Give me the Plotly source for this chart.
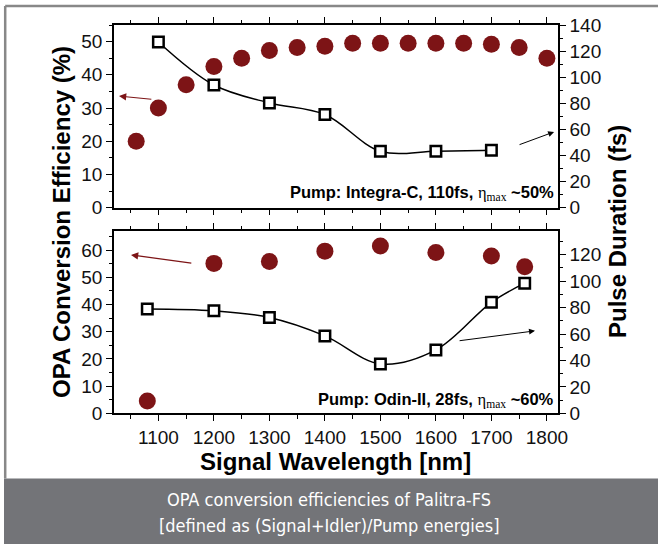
import plotly.graph_objects as go

# ---------------- data ----------------
wl_eff_top = [1060, 1100, 1150, 1200, 1250, 1300, 1350, 1400, 1450, 1500, 1550, 1600, 1650, 1700, 1750, 1800]
eff_top = [20, 30, 37, 42.5, 45, 47.3, 48.2, 48.6, 49.5, 49.5, 49.5, 49.5, 49.5, 49.2, 48.2, 45]
wl_pulse_top = [1100, 1200, 1300, 1400, 1500, 1600, 1700]
pulse_top = [127, 94, 80.3, 71.4, 43.3, 43.3, 44]

wl_eff_bot = [1080, 1200, 1300, 1400, 1500, 1600, 1700, 1760]
eff_bot = [4.5, 55.1, 55.8, 59.6, 61.5, 59.1, 57.8, 53.9]
wl_pulse_bot = [1080, 1200, 1300, 1400, 1500, 1600, 1700, 1760]
pulse_bot = [79, 77.6, 72.5, 58.6, 37.4, 48, 84, 98.5]

x_ticks = [1100, 1200, 1300, 1400, 1500, 1600, 1700, 1800]
label_top = "<b>Pump: Integra-C, 110fs, </b><span style='font-family:Liberation Serif'>η<sub>max</sub></span><b> ~50%</b>"
label_bot = "<b>Pump: Odin-II, 28fs, </b><span style='font-family:Liberation Serif'>η<sub>max</sub></span><b> ~60%</b>"

# ---------------- style ----------------
W, H = 658, 544
RED = "#7d1416"
FONT = "Liberation Sans, Arial, sans-serif"
px = lambda v: v / W
py = lambda v: 1 - v / H

fig = go.Figure()
circle = dict(size=17, color=RED)
square = dict(symbol="square", size=10.5, color="white", line=dict(color="black", width=2.5))

fig.add_trace(go.Scatter(x=wl_eff_top, y=eff_top, mode="markers", marker=circle, xaxis="x", yaxis="y", showlegend=False))
fig.add_trace(go.Scatter(x=wl_pulse_top, y=pulse_top, mode="lines+markers", marker=square,
                         line=dict(color="black", width=1.5, shape="spline", smoothing=1),
                         xaxis="x", yaxis="y2", showlegend=False))
fig.add_trace(go.Scatter(x=wl_eff_bot, y=eff_bot, mode="markers", marker=circle, xaxis="x2", yaxis="y3", showlegend=False))
fig.add_trace(go.Scatter(x=wl_pulse_bot, y=pulse_bot, mode="lines+markers", marker=square,
                         line=dict(color="black", width=1.5, shape="spline", smoothing=1),
                         xaxis="x2", yaxis="y4", showlegend=False))

tickfont = dict(family=FONT, size=19, color="#111")
common = dict(showline=True, linewidth=1.5, linecolor="black", ticks="outside", ticklen=6, tickwidth=1.3,
              tickcolor="black", showgrid=False, zeroline=False, tickfont=tickfont, automargin=False)

xdom = [px(114), px(558)]
top_dom = [py(207.7), py(25)]
bot_dom = [py(413.3), py(231)]

def xax(anchor, labels):
    return dict(common, domain=xdom, anchor=anchor, range=[1020, 1820], tickvals=x_ticks,
                showticklabels=labels, mirror="ticks",
                minor=dict(dtick=50, tick0=1000, ticks="outside", ticklen=3.5, tickcolor="black", showgrid=False))

def yax(dom, anchor, rng, dtick, mdtick, side="left", overlay=None):
    d = dict(common, anchor=anchor, range=rng, dtick=dtick, tick0=0, side=side,
             minor=dict(dtick=mdtick, tick0=0, ticks="outside", ticklen=3.5, tickcolor="black", showgrid=False))
    if overlay:
        d["overlaying"] = overlay
    else:
        d["domain"] = dom
    return d

fig.update_layout(
    width=W, height=H, margin=dict(l=0, r=0, t=0, b=0, autoexpand=False),
    paper_bgcolor="white", plot_bgcolor="white",
    xaxis=xax("y", False),
    xaxis2=xax("y3", True),
    yaxis=yax(top_dom, "x", [0, 55], 10, 5),
    yaxis2=yax(top_dom, "x", [0, 140], 20, 10, side="right", overlay="y"),
    yaxis3=yax(bot_dom, "x2", [0, 67], 10, 5),
    yaxis4=yax(bot_dom, "x2", [0, 138], 20, 10, side="right", overlay="y3"),
)

# frame and caption band
fig.add_shape(type="rect", xref="paper", yref="paper", x0=px(4), x1=1, y0=0, y1=py(478.5),
              fillcolor="#737478", line=dict(width=0), layer="below")
fig.add_shape(type="line", xref="paper", yref="paper", x0=px(5.2), x1=1, y0=py(6), y1=py(6),
              line=dict(color="#888888", width=2.5))
fig.add_shape(type="line", xref="paper", yref="paper", x0=px(5.2), x1=px(5.2), y0=py(6), y1=py(478.5),
              line=dict(color="#888888", width=2.5))

C = dict(xanchor="center", yanchor="middle", showarrow=False)
ann = []
# axis titles
ann.append(dict(C, text="<b>OPA Conversion Efficiency (%)</b>", xref="paper", yref="paper", x=px(61), y=py(222),
                textangle=-90, font=dict(family=FONT, size=24, color="black")))
ann.append(dict(C, text="<b>Pulse Duration (fs)</b>", xref="paper", yref="paper", x=px(617), y=py(232),
                textangle=-90, font=dict(family=FONT, size=24, color="black")))
ann.append(dict(C, text="<b>Signal Wavelength [nm]</b>", xref="paper", yref="paper", x=px(335), y=py(461),
                font=dict(family=FONT, size=24, color="black")))
# pump labels
ann.append(dict(C, text=label_top, xref="paper", yref="paper", x=px(556), y=py(193), xanchor="right",
                font=dict(family=FONT, size=16.5, color="black")))
ann.append(dict(C, text=label_bot, xref="paper", yref="paper", x=px(556), y=py(400), xanchor="right",
                font=dict(family=FONT, size=16.5, color="black")))
# arrows
ann.append(dict(x=1029, y=33.6, ax=1090, ay=32.6, xref="x", yref="y", axref="x", ayref="y", text="",
                showarrow=True, arrowhead=2, arrowsize=1.2, arrowwidth=1.2, arrowcolor=RED))
ann.append(dict(x=1813, y=58.1, ax=1748, ay=47.9, xref="x", yref="y2", axref="x", ayref="y2", text="",
                showarrow=True, arrowhead=2, arrowsize=1.2, arrowwidth=1, arrowcolor="black"))
ann.append(dict(x=1050.6, y=58.2, ax=1162, ay=55.1, xref="x2", yref="y3", axref="x2", ayref="y3", text="",
                showarrow=True, arrowhead=2, arrowsize=1.2, arrowwidth=1.2, arrowcolor=RED))
ann.append(dict(x=1778.6, y=62.4, ax=1640, ay=54.8, xref="x2", yref="y4", axref="x2", ayref="y4", text="",
                showarrow=True, arrowhead=2, arrowsize=1.2, arrowwidth=1, arrowcolor="black"))
# caption
capfont = dict(family="Liberation Sans Narrow, DejaVu Sans Condensed, Arial Narrow, sans-serif", size=18, color="white")
ann.append(dict(C, text="OPA conversion efficiencies of Palitra-FS", xref="paper", yref="paper", x=px(329), y=py(499),
                font=capfont))
ann.append(dict(C, text="[defined as (Signal+Idler)/Pump energies]", xref="paper", yref="paper", x=px(329), y=py(525),
                font=capfont))
fig.update_layout(annotations=ann)

fig.write_html("out.html", config={"displayModeBar": False},
               post_script="document.body.style.margin='0';document.body.style.padding='0';"
                           "document.body.style.overflow='hidden';")
